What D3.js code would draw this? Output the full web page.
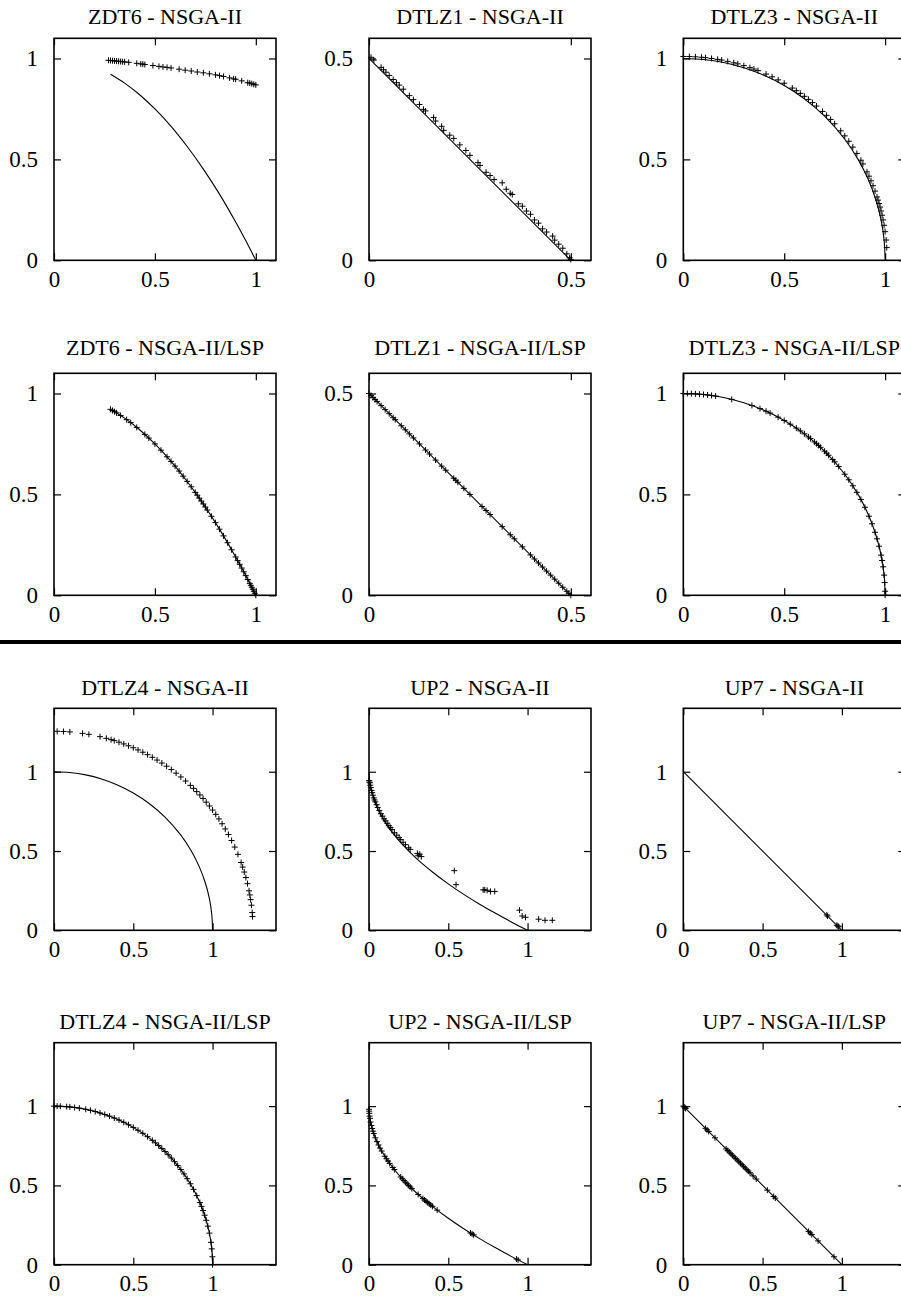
<!DOCTYPE html>
<html><head><meta charset="utf-8">
<script src="https://cdn.jsdelivr.net/npm/d3@7"></script>
<style>body{margin:0;background:#fff}svg{display:block}</style>
</head><body>
<svg id="chart" width="901" height="1299"></svg>
<script>
// ---------------- DATA ----------------
const titles = ["ZDT6 - NSGA-II","DTLZ1 - NSGA-II","DTLZ3 - NSGA-II",
  "ZDT6 - NSGA-II/LSP","DTLZ1 - NSGA-II/LSP","DTLZ3 - NSGA-II/LSP",
  "DTLZ4 - NSGA-II","UP2 - NSGA-II","UP7 - NSGA-II",
  "DTLZ4 - NSGA-II/LSP","UP2 - NSGA-II/LSP","UP7 - NSGA-II/LSP"];
const axisMax = [1.1,0.55,1.1, 1.1,0.55,1.1, 1.4,1.4,1.4, 1.4,1.4,1.4];
const tickValsFull = [0,0.5,1];
const tickValsHalf = [0,0.5];
const tickLabels = {"0":"0","0.5":"0.5","1":"1"};

// true fronts
const zdt6Front = [[0.28,0.922],[0.35,0.878],[0.42,0.824],[0.5,0.75],[0.58,0.664],[0.66,0.564],[0.74,0.452],[0.82,0.328],[0.9,0.19],[0.95,0.098],[1.0,0]];
const dtlz1Front = [[0,0.5],[0.5,0]];
const circleFront = [[0,1],[0.1,0.995],[0.2,0.98],[0.3,0.954],[0.4,0.9165],[0.5,0.866],[0.6,0.8],[0.7,0.714],[0.8,0.6],[0.866,0.5],[0.9165,0.4],[0.954,0.3],[0.98,0.2],[0.995,0.1],[1,0]];
const up2Front = [[0,1],[0.005,0.929],[0.02,0.859],[0.05,0.776],[0.1,0.684],[0.15,0.613],[0.2,0.553],[0.3,0.452],[0.4,0.368],[0.5,0.293],[0.6,0.225],[0.7,0.163],[0.8,0.106],[0.9,0.051],[1,0]];
const up7Front = [[0,1],[1,0]];

// obtained solutions
const zdt6Nsga = [[0.27,0.991],[0.28,0.99],[0.29,0.989],[0.30,0.988],[0.31,0.987],[0.32,0.986],[0.33,0.985],[0.34,0.984],[0.35,0.983],[0.37,0.981],[0.41,0.976],[0.43,0.973],[0.44,0.972],[0.45,0.97],[0.49,0.965],[0.52,0.961],[0.54,0.958],[0.56,0.956],[0.58,0.953],[0.62,0.947],[0.65,0.942],[0.68,0.938],[0.71,0.933],[0.74,0.929],[0.77,0.924],[0.80,0.919],[0.82,0.915],[0.84,0.911],[0.87,0.904],[0.89,0.899],[0.90,0.897],[0.93,0.889],[0.96,0.88],[0.97,0.878],[0.98,0.875],[0.99,0.872],[1.0,0.869]];
const dtlz1Nsga = [[0.005,0.503],[0.012,0.496],[0.03,0.478],[0.036,0.472],[0.042,0.466],[0.05,0.458],[0.06,0.448],[0.068,0.44],[0.075,0.434],[0.085,0.424],[0.1,0.408],[0.11,0.398],[0.125,0.386],[0.135,0.374],[0.14,0.37],[0.16,0.354],[0.165,0.345],[0.18,0.332],[0.185,0.322],[0.2,0.31],[0.21,0.302],[0.225,0.286],[0.24,0.272],[0.25,0.26],[0.27,0.242],[0.275,0.235],[0.29,0.218],[0.3,0.21],[0.31,0.2],[0.33,0.192],[0.34,0.176],[0.35,0.166],[0.355,0.163],[0.37,0.14],[0.38,0.134],[0.39,0.122],[0.4,0.114],[0.41,0.1],[0.42,0.092],[0.43,0.078],[0.44,0.07],[0.455,0.06],[0.46,0.05],[0.47,0.04],[0.48,0.03],[0.49,0.016],[0.497,0.006],[0.5,0.002]];
const dtlz3Nsga = [[0,1.01],[0.03,1.0096],[0.06,1.0082],[0.09,1.006],[0.11,1.004],[0.14,1.0],[0.17,0.9956],[0.19,0.992],[0.22,0.9857],[0.25,0.9786],[0.27,0.9732],[0.30,0.9644],[0.33,0.9546],[0.35,0.9474],[0.37,0.9398],[0.41,0.923],[0.44,0.9091],[0.47,0.894],[0.50,0.8776],[0.54,0.8535],[0.56,0.8405],[0.58,0.8269],[0.60,0.8125],[0.62,0.7973],[0.64,0.7813],[0.66,0.7645],[0.69,0.7376],[0.71,0.7183],[0.73,0.698],[0.75,0.6765],[0.78,0.6416],[0.80,0.6165],[0.82,0.5897],[0.84,0.5608],[0.86,0.5296],[0.88,0.4957],[0.89,0.4775],[0.91,0.4382],[0.92,0.4168],[0.93,0.394],[0.94,0.3695],[0.95,0.3429],[0.96,0.3138],[0.965,0.2981],[0.97,0.2814],[0.975,0.2636],[0.98,0.2443],[0.985,0.2233],[0.99,0.2],[0.995,0.1735],[1.0,0.1418],[1.005,0.1005],[1.008,0.063]];
const zdt6Lsp = [[0.28,0.9216],[0.29,0.9159],[0.30,0.91],[0.31,0.9039],[0.33,0.8911],[0.36,0.8704],[0.38,0.8556],[0.41,0.8319],[0.45,0.7975],[0.47,0.7791],[0.50,0.75],[0.53,0.7191],[0.56,0.6864],[0.58,0.6636],[0.60,0.64],[0.62,0.6156],[0.64,0.5904],[0.66,0.5644],[0.68,0.5376],[0.70,0.51],[0.71,0.4959],[0.72,0.4816],[0.73,0.4671],[0.74,0.4524],[0.75,0.4375],[0.76,0.4224],[0.78,0.3916],[0.80,0.36],[0.82,0.3276],[0.84,0.2944],[0.86,0.2604],[0.88,0.2256],[0.90,0.19],[0.91,0.1719],[0.92,0.1536],[0.93,0.1351],[0.94,0.1164],[0.95,0.0975],[0.96,0.0784],[0.97,0.0591],[0.975,0.0494],[0.98,0.0396],[0.985,0.0298],[0.99,0.0199],[0.995,0.01],[1.0,0.0]];
const dtlz1Lsp = [[0,0.5],[0.005,0.495],[0.01,0.49],[0.015,0.485],[0.02,0.48],[0.03,0.47],[0.04,0.46],[0.05,0.45],[0.06,0.44],[0.065,0.435],[0.08,0.42],[0.09,0.41],[0.10,0.40],[0.11,0.39],[0.125,0.375],[0.14,0.36],[0.15,0.35],[0.165,0.335],[0.18,0.32],[0.19,0.31],[0.21,0.29],[0.215,0.285],[0.22,0.28],[0.235,0.265],[0.25,0.25],[0.28,0.22],[0.29,0.21],[0.30,0.20],[0.33,0.17],[0.35,0.15],[0.36,0.14],[0.38,0.12],[0.40,0.10],[0.41,0.09],[0.42,0.08],[0.43,0.07],[0.44,0.06],[0.45,0.05],[0.46,0.04],[0.47,0.03],[0.48,0.02],[0.49,0.01],[0.495,0.005],[0.5,0]];
const dtlz3Lsp = [[0,1],[0.02,0.9998],[0.04,0.9992],[0.06,0.9982],[0.08,0.9968],[0.10,0.995],[0.12,0.9928],[0.14,0.9902],[0.16,0.9871],[0.24,0.9708],[0.34,0.9404],[0.38,0.925],[0.41,0.9121],[0.43,0.9028],[0.47,0.8827],[0.5,0.866],[0.53,0.848],[0.56,0.8285],[0.58,0.8146],[0.6,0.8],[0.62,0.7846],[0.63,0.7766],[0.65,0.7599],[0.66,0.7513],[0.67,0.7424],[0.68,0.7332],[0.7,0.7141],[0.71,0.7042],[0.72,0.694],[0.74,0.6726],[0.75,0.6614],[0.77,0.638],[0.8,0.6],[0.82,0.5724],[0.84,0.5426],[0.86,0.5103],[0.88,0.475],[0.9,0.4359],[0.92,0.3919],[0.935,0.3546],[0.95,0.3122],[0.96,0.28],[0.97,0.2431],[0.98,0.199],[0.985,0.1726],[0.99,0.1411],[0.995,0.0999],[0.998,0.0632],[1.0,0.02],[1.0,0]];
const dtlz4Nsga = [[0.02,1.2548],[0.06,1.2536],[0.10,1.251],[0.18,1.242],[0.22,1.2356],[0.29,1.221],[0.33,1.2108],[0.36,1.2023],[0.38,1.1961],[0.41,1.1861],[0.44,1.1753],[0.47,1.1637],[0.50,1.1511],[0.53,1.1376],[0.56,1.1231],[0.59,1.1077],[0.62,1.0911],[0.65,1.0735],[0.68,1.0548],[0.71,1.0348],[0.74,1.0136],[0.77,0.991],[0.80,0.967],[0.83,0.9413],[0.86,0.914],[0.88,0.8948],[0.90,0.8746],[0.92,0.8536],[0.94,0.8315],[0.96,0.8083],[0.98,0.784],[1.00,0.7583],[1.02,0.7312],[1.04,0.7024],[1.06,0.6719],[1.08,0.6392],[1.10,0.6042],[1.12,0.5662],[1.14,0.5248],[1.16,0.479],[1.18,0.4273],[1.19,0.3986],[1.20,0.3674],[1.21,0.333],[1.22,0.2943],[1.23,0.2492],[1.235,0.2231],[1.24,0.1934],[1.245,0.158],[1.25,0.1118],[1.252,0.0866]];
const up2Nsga = [[0.001,0.945],[0.003,0.935],[0.005,0.93],[0.008,0.915],[0.012,0.9],[0.016,0.882],[0.02,0.868],[0.025,0.852],[0.03,0.835],[0.035,0.822],[0.04,0.81],[0.048,0.792],[0.055,0.775],[0.065,0.755],[0.075,0.735],[0.085,0.72],[0.095,0.703],[0.105,0.69],[0.115,0.675],[0.125,0.66],[0.135,0.648],[0.145,0.635],[0.16,0.615],[0.175,0.6],[0.19,0.585],[0.2,0.572],[0.215,0.555],[0.23,0.54],[0.25,0.52],[0.26,0.51],[0.305,0.485],[0.31,0.47],[0.32,0.48],[0.33,0.465],[0.538,0.376],[0.549,0.288],[0.72,0.255],[0.73,0.255],[0.745,0.252],[0.766,0.245],[0.793,0.245],[0.949,0.127],[0.966,0.09],[0.987,0.082],[1.07,0.07],[1.11,0.063],[1.156,0.063]];
const up7Nsga = [[0.905,0.097],[0.91,0.09],[0.968,0.032],[0.975,0.027],[0.98,0.022]];
const dtlz4Lsp = [[0,1],[0.02,0.9998],[0.04,0.9992],[0.08,0.9968],[0.1,0.995],[0.13,0.9915],[0.16,0.9871],[0.2,0.9798],[0.23,0.9732],[0.26,0.9656],[0.29,0.957],[0.32,0.9474],[0.35,0.9367],[0.38,0.925],[0.41,0.9121],[0.44,0.898],[0.47,0.8827],[0.5,0.866],[0.53,0.848],[0.56,0.8285],[0.59,0.8074],[0.62,0.7846],[0.64,0.7684],[0.66,0.7513],[0.68,0.7332],[0.7,0.7141],[0.72,0.694],[0.74,0.6726],[0.76,0.6499],[0.78,0.6258],[0.8,0.6],[0.82,0.5724],[0.84,0.5426],[0.86,0.5103],[0.88,0.475],[0.9,0.4359],[0.92,0.3919],[0.93,0.3676],[0.94,0.3412],[0.95,0.3122],[0.96,0.28],[0.97,0.2431],[0.98,0.199],[0.99,0.1411],[0.995,0.0999],[0.9987,0.05],[1.0,0]];
const up2Lsp = [[0.0004,0.98],[0.001,0.968],[0.002,0.955],[0.004,0.937],[0.006,0.923],[0.01,0.9],[0.015,0.878],[0.02,0.859],[0.025,0.842],[0.03,0.827],[0.04,0.8],[0.05,0.776],[0.06,0.755],[0.07,0.735],[0.08,0.717],[0.1,0.684],[0.11,0.668],[0.12,0.654],[0.13,0.639],[0.15,0.613],[0.16,0.6],[0.2,0.553],[0.21,0.542],[0.22,0.531],[0.23,0.52],[0.24,0.51],[0.25,0.5],[0.26,0.49],[0.27,0.48],[0.31,0.443],[0.34,0.417],[0.35,0.408],[0.36,0.4],[0.37,0.392],[0.38,0.384],[0.39,0.376],[0.4,0.368],[0.43,0.344],[0.64,0.2],[0.65,0.194],[0.66,0.188],[0.93,0.036],[0.94,0.03]];
const up7Lsp = [[0,1],[0.005,0.995],[0.01,0.99],[0.015,0.985],[0.14,0.86],[0.15,0.85],[0.16,0.84],[0.2,0.8],[0.27,0.73],[0.28,0.72],[0.29,0.71],[0.3,0.7],[0.31,0.69],[0.32,0.68],[0.33,0.67],[0.34,0.66],[0.35,0.65],[0.36,0.64],[0.37,0.63],[0.38,0.62],[0.39,0.61],[0.4,0.6],[0.41,0.59],[0.42,0.58],[0.44,0.56],[0.46,0.54],[0.53,0.47],[0.57,0.43],[0.58,0.42],[0.79,0.21],[0.8,0.2],[0.81,0.19],[0.85,0.15],[0.95,0.05]];

// ---------------- LAYOUT ----------------
const colLeft = [54, 369, 683.3];
const rowTop = [38.3, 373.3, 708.3, 1042.7];
const titleOffset = [14, 18, 13, 13.5];
const plotW = 222, plotH = 222;
const FONT = '"Liberation Serif", "Times New Roman", Times, "Nimbus Roman", "Noto Serif", FreeSerif, Tinos, "DejaVu Serif", serif';

const panelPts = [zdt6Nsga,dtlz1Nsga,dtlz3Nsga,zdt6Lsp,dtlz1Lsp,dtlz3Lsp,dtlz4Nsga,up2Nsga,up7Nsga,dtlz4Lsp,up2Lsp,up7Lsp];
const panelFront = [zdt6Front,dtlz1Front,circleFront,zdt6Front,dtlz1Front,circleFront,circleFront,up2Front,up7Front,circleFront,up2Front,up7Front];

const svg = d3.select("#chart");
svg.append("rect").attr("width",901).attr("height",1299).attr("fill","#fff");

titles.forEach((title,i)=>{
  const r = Math.floor(i/3), c = i%3;
  const g = svg.append("g").attr("transform",`translate(${colLeft[c]},${rowTop[r]})`);
  const m = axisMax[i];
  const x = d3.scaleLinear().domain([0,m]).range([0,plotW]);
  const y = d3.scaleLinear().domain([0,m]).range([plotH,0]);
  const tv = m < 1 ? tickValsHalf : tickValsFull;
  const fmt = d => tickLabels[String(d)];

  const ax = [
    g.append("g").attr("transform",`translate(0,${plotH})`).call(d3.axisBottom(x).tickValues(tv).tickFormat(fmt).tickSizeInner(-7).tickSizeOuter(0).tickPadding(10)),
    g.append("g").call(d3.axisLeft(y).tickValues(tv).tickFormat(fmt).tickSizeInner(-7).tickSizeOuter(0).tickPadding(16)),
    g.append("g").call(d3.axisTop(x).tickValues(tv).tickFormat("").tickSizeInner(-7).tickSizeOuter(0)),
    g.append("g").attr("transform",`translate(${plotW},0)`).call(d3.axisRight(y).tickValues(tv).tickFormat("").tickSizeInner(-7).tickSizeOuter(0))
  ];
  ax.forEach(a=>{
    a.attr("font-family",FONT).attr("font-size",23);
    a.select(".domain").remove();
    a.selectAll("line").attr("stroke","#000").attr("stroke-width",1.2);
    a.selectAll("text").attr("font-family",FONT).attr("font-size",23).attr("fill","#000");
  });
  ax[1].selectAll("text").attr("dy","0.32em");

  const line = d3.line().x(d=>x(d[0])).y(d=>y(d[1]))
    .curve(panelFront[i].length>2 ? d3.curveCatmullRom : d3.curveLinear);
  g.append("path").datum(panelFront[i]).attr("d",line)
    .attr("fill","none").attr("stroke","#000").attr("stroke-width",1.1);

  g.append("g").selectAll("path").data(panelPts[i]).join("path")
    .attr("transform",d=>`translate(${x(d[0])},${y(d[1])})`)
    .attr("d","M-3,0H3M0,-3V3")
    .attr("stroke","#000").attr("stroke-width",1).attr("fill","none");

  g.append("rect").attr("width",plotW).attr("height",plotH)
    .attr("fill","none").attr("stroke","#000").attr("stroke-width",1.6);

  g.append("text").attr("x",plotW/2).attr("y",-titleOffset[r]).attr("text-anchor","middle")
    .attr("font-family",FONT).attr("font-size",22).attr("fill","#000").text(title);
});

svg.append("line").attr("x1",0).attr("x2",901).attr("y1",642).attr("y2",642)
  .attr("stroke","#000").attr("stroke-width",4);
</script>
</body></html>
